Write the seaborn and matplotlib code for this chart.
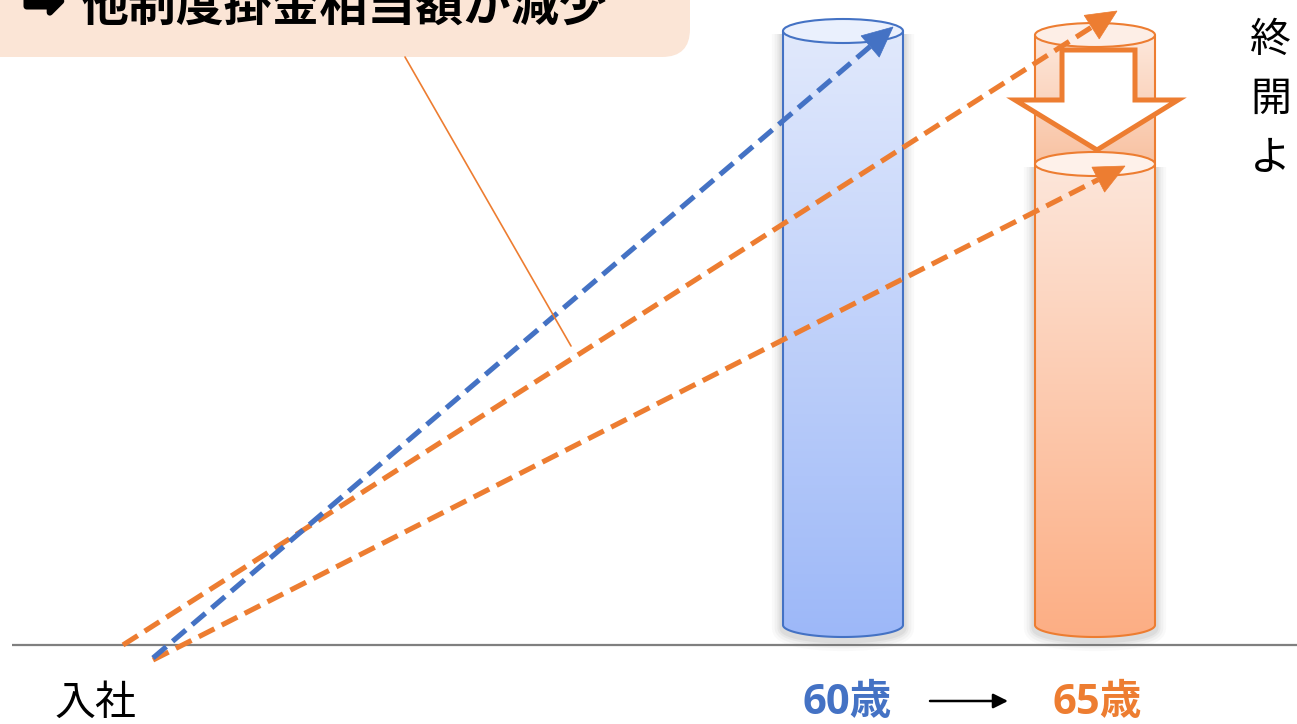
import numpy as np
import pandas as pd
import matplotlib
matplotlib.use("Agg")
import matplotlib.pyplot as plt
import matplotlib.patheffects as pe
import seaborn as sns
from matplotlib.patches import Ellipse, Polygon, FancyBboxPatch, PathPatch
from matplotlib.path import Path
from matplotlib.colors import LinearSegmentedColormap

W, H = 1297, 724

# Contribution growth paths (canvas units, y grows downward)
blue_x = [153, 893]
blue_y = [658, 27]
orange_hi_x = [123, 1117]
orange_hi_y = [645, 11]
orange_lo_x = [153, 1125]
orange_lo_y = [660, 166]

# Pension pillars: centre, width, top, reduced top, bottom
pillar_cx = [843, 1095]
pillar_w = [120, 120]
pillar_top = [31, 35]
pillar_cut = [None, 164]
pillar_bottom = [625, 625]

labels_bottom = ["入社", "60歳", "65歳"]
headline = "他制度掛金相当額が減少"
side_chars = ["終", "開", "よ"]

BLUE = "#4472C4"
ORANGE = "#ED7D31"

sns.set_style("white")
plt.rcParams["font.family"] = ["Noto Sans CJK JP", "DejaVu Sans"]

fig = plt.figure(figsize=(W / 100, H / 100), dpi=100)
ax = fig.add_axes([0, 0, 1, 1])
ax.set_xlim(0, W)
ax.set_ylim(H, 0)
ax.axis("off")

EH = 24  # ellipse height of cylinder caps


def body_path(cx, w, ytop, ybot, eh):
    t = np.linspace(np.pi, 0, 80)
    xs = cx + (w / 2) * np.cos(t)
    ys = ybot + (eh / 2) * np.sin(t)
    verts = [(cx - w / 2, ytop)] + list(zip(xs, ys)) + [(cx + w / 2, ytop)]
    return Path(verts)


def gradient_body(cx, w, ytop, ybot, eh, c_top, c_bot, edge, z, shadow=True):
    path = body_path(cx, w, ytop, ybot, eh)
    if shadow:
        spath = Path(path.vertices + np.array([0, 3]))
        for lw, a in [(16, 0.035), (12, 0.05), (8, 0.07), (5, 0.09)]:
            ax.add_patch(PathPatch(spath, fc="none", ec="#6f6f6f", lw=lw,
                                   alpha=a, zorder=z - 0.5, joinstyle="round"))
    cmap = LinearSegmentedColormap.from_list("g", [c_top, c_bot])
    grad = np.linspace(0, 1, 256).reshape(-1, 1)
    im = ax.imshow(grad, cmap=cmap, aspect="auto", origin="upper",
                   extent=[cx - w / 2, cx + w / 2, ybot + eh / 2, ytop],
                   zorder=z, interpolation="bilinear")
    clip = PathPatch(path, fc="none", ec="none", transform=ax.transData)
    ax.add_patch(clip)
    im.set_clip_path(clip)
    ax.add_patch(PathPatch(path, fc="none", ec=edge, lw=1.5, zorder=z + 0.1))


# Ground line
ax.plot([12, W], [645, 645], color="#7f7f7f", lw=1.6, zorder=1,
        solid_capstyle="butt")

# Blue pillar (60)
cx, w = pillar_cx[0], pillar_w[0]
gradient_body(cx, w, pillar_top[0], pillar_bottom[0], EH,
              "#E1E9FC", "#9DB8F8", BLUE, 3)
ax.add_patch(Ellipse((cx, pillar_top[0]), w, EH, fc="#EAF0FD", ec=BLUE,
                     lw=1.5, zorder=3.2))

# Orange pillar (65): lower kept part and upper reduced part
cx, w = pillar_cx[1], pillar_w[1]
gradient_body(cx, w, pillar_cut[1], pillar_bottom[1], EH,
              "#FDE6DA", "#FCAE84", ORANGE, 3)
gradient_body(cx, w, pillar_top[1], pillar_cut[1], EH,
              "#FDE8DC", "#F8BE9C", ORANGE, 2.6, shadow=False)
ax.add_patch(Ellipse((cx, pillar_top[1]), w, EH, fc="#FDEEE6", ec=ORANGE,
                     lw=1.5, zorder=3.2))
ax.add_patch(Ellipse((cx, pillar_cut[1]), w, EH, fc="#FEF1EA", ec=ORANGE,
                     lw=1.5, zorder=3.2))


def dashed_arrow(xs, ys, color, head=True, L=30, hw=14, z=5):
    x0, x1 = xs
    y0, y1 = ys
    d = np.array([x1 - x0, y1 - y0], float)
    d /= np.hypot(*d)
    n = np.array([-d[1], d[0]])
    tip = np.array([x1, y1], float)
    base = tip - L * d if head else tip
    df = pd.DataFrame({"x": [x0, base[0]], "y": [y0, base[1]]})
    sns.lineplot(data=df, x="x", y="y", ax=ax, color=color, lw=3.7,
                 linestyle=(0, (3.4, 1.6)), sort=False, estimator=None,
                 zorder=z)
    if head:
        ax.add_patch(Polygon([tip, base + hw * n, base - hw * n],
                             closed=True, fc=color, ec=color, lw=0.5,
                             zorder=z))


dashed_arrow(orange_hi_x, orange_hi_y, ORANGE)
dashed_arrow(orange_lo_x, orange_lo_y, ORANGE)
dashed_arrow(blue_x, blue_y, BLUE)
ax.set_xlim(0, W)
ax.set_ylim(H, 0)
ax.set_xlabel("")
ax.set_ylabel("")

# Hollow downward arrow on the 65 pillar
ax.add_patch(Polygon([(1062, 50), (1135, 50), (1135, 100), (1178, 100),
                      (1097, 150), (1015, 100), (1062, 100)], closed=True,
                     fc="white", ec=ORANGE, lw=3.6, joinstyle="miter",
                     zorder=6))

# Headline callout box with leader line
ax.add_patch(FancyBboxPatch((-60, -60), 750, 117,
                            boxstyle="round,pad=0,rounding_size=28",
                            fc="#FBE5D6", ec="none", zorder=7))
ax.plot([405, 571], [57, 346], color=ORANGE, lw=1.2, zorder=7)
ax.text(24, 3, "➡", fontsize=33, color="black",
        family=["DejaVu Sans"], va="center", ha="left", zorder=8,
        path_effects=[pe.withStroke(linewidth=4.5, foreground="black")])
ax.text(80, 21, headline, fontsize=34.5, fontweight="bold", color="black",
        va="baseline", ha="left", zorder=8)

# Side text running off the right edge
for i, ch in enumerate(side_chars):
    ax.text(1250, 40 + 59 * i, ch, fontsize=29.5, color="black",
            va="center", ha="left", zorder=8)

# Bottom labels
ax.text(55, 703, labels_bottom[0], fontsize=29.5, color="black",
        va="center", ha="left")
ax.text(803, 704, labels_bottom[1], fontsize=30, fontweight="bold",
        color=BLUE, va="center", ha="left",
        family=["Open Sans", "Noto Sans CJK JP"])
ax.text(1052, 704, labels_bottom[2], fontsize=30, fontweight="bold",
        color=ORANGE, va="center", ha="left",
        family=["Open Sans", "Noto Sans CJK JP"])
ax.annotate("", xy=(1008, 701), xytext=(930, 701),
            arrowprops=dict(arrowstyle="-|>", color="black", lw=1.8,
                            mutation_scale=22, shrinkA=0, shrinkB=0))

fig.savefig("out.png", dpi=100)
